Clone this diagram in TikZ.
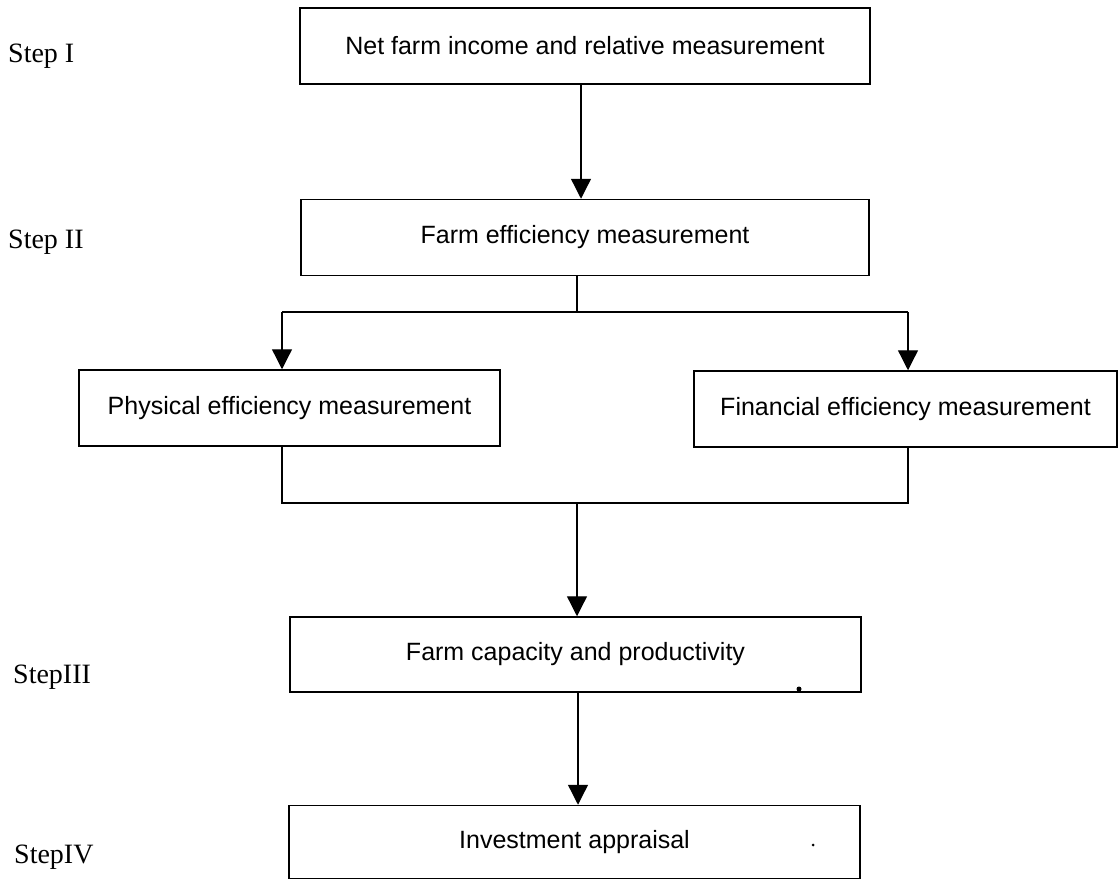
\documentclass[tikz,border=0pt]{standalone}
\usepackage{fontspec}
\setmainfont{Liberation Serif}
\setsansfont{Liberation Sans}
\usetikzlibrary{arrows.meta}
\begin{document}
\begin{tikzpicture}[x=1pt,y=-1pt,
  box/.style={draw, line width=1.5pt, inner sep=0pt,
    font=\sffamily\fontsize{25}{30}\selectfont},
  steplabel/.style={anchor=base west, inner sep=0pt,
    font=\rmfamily\fontsize{28}{34}\selectfont},
  conn/.style={line width=1.3pt},
  arr/.style={conn, -{Triangle[width=20pt,length=20pt]}}]
\useasboundingbox (0,0) rectangle (1119,880);

% boxes
\node[box, minimum width=570pt, minimum height=76pt] (b1) at (585,46) {Net farm income and relative measurement};
\node[box, minimum width=568pt, minimum height=76pt] (b2) at (585,237.5) {Farm efficiency measurement};
\node[box, minimum width=421pt, minimum height=76pt] (b3) at (289.5,408) {Physical efficiency measurement};
\node[box, minimum width=423pt, minimum height=76pt] (b4) at (905.5,409) {Financial efficiency measurement};
\node[box, minimum width=571pt, minimum height=75pt] (b5) at (575.5,654.5) {Farm capacity and productivity};
\node[box, minimum width=571pt, minimum height=73pt] (b6) at (574.5,842) {Investment appraisal};

% step labels
\node[steplabel] (l1) at (8,63) {Step I};
\node[steplabel] (l2) at (8,248) {Step II};
\node[steplabel] (l3) at (13,683) {StepIII};
\node[steplabel] (l4) at (14,863) {StepIV};

% helper coordinates
\coordinate (s1) at (581,0);
\coordinate (jt) at (577,312);
\coordinate (xl) at (282,0);
\coordinate (xr) at (908,0);
\coordinate (jb) at (577,503);
\coordinate (s5) at (578,0);

% connectors
\draw[arr] (b1.south -| s1) -- (b2.north -| s1);
\draw[conn] (b2.south -| jt) -- (jt);
\draw[conn] (jt -| xl) -- (jt -| xr);
\draw[arr] (jt -| xl) -- (b3.north -| xl);
\draw[arr] (jt -| xr) -- (b4.north -| xr);
\draw[conn] (b3.south -| xl) |- (jb) -| (b4.south -| xr);
\draw[arr] (jb) -- (b5.north -| jb);
\draw[arr] (b5.south -| s5) -- (b6.north -| s5);

% small dots seen in the picture
\fill (799,689) circle (2.5pt);
\fill (813,845) circle (1.5pt);
\end{tikzpicture}
\end{document}
